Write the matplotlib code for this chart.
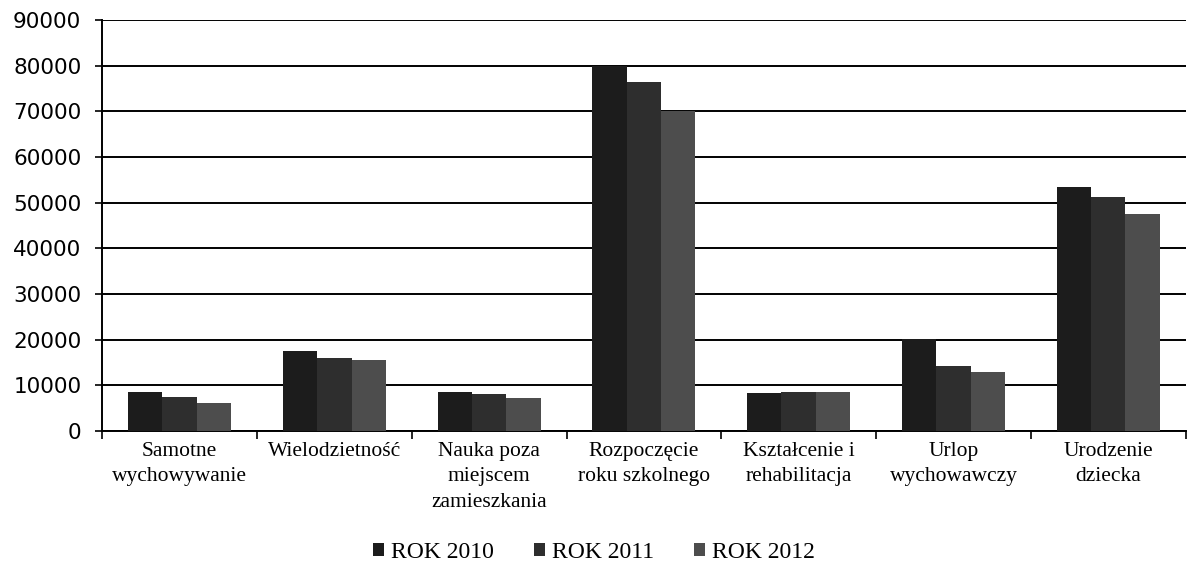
import numpy as np
import matplotlib.pyplot as plt

categories = ['Samotne\nwychowywanie', 'Wielodzietność', 'Nauka poza\nmiejscem\nzamieszkania',
              'Rozpoczęcie\nroku szkolnego', 'Kształcenie i\nrehabilitacja', 'Urlop\nwychowawczy',
              'Urodzenie\ndziecka']
rok_2010 = [8500, 17500, 8500, 80000, 8400, 20200, 53300]
rok_2011 = [7400, 16000, 8000, 76400, 8500, 14200, 51200]
rok_2012 = [6100, 15600, 7200, 70100, 8600, 13000, 47500]
series = {'ROK 2010': rok_2010, 'ROK 2011': rok_2011, 'ROK 2012': rok_2012}
colors = ['#1c1c1c', '#2e2e2e', '#4d4d4d']

fig = plt.figure(figsize=(11.88, 5.67), dpi=100)
ax = fig.add_axes([0.086, 0.24, 0.912, 0.725])

x = np.arange(len(categories))
w = 0.222
for i, (name, vals) in enumerate(series.items()):
    ax.bar(x + (i - 1) * w, vals, width=w, color=colors[i], label=name, zorder=3)

ax.set_xlim(-0.5, len(categories) - 0.5)
ax.set_ylim(0, 90000)
ax.set_yticks(np.arange(0, 90001, 10000))
ax.yaxis.grid(True, color='black', linewidth=1.4, zorder=0)
ax.set_axisbelow(True)
for s in ['top', 'right']:
    ax.spines[s].set_visible(False)
ax.spines['left'].set_linewidth(1.4)
ax.spines['bottom'].set_linewidth(1.4)

ax.tick_params(axis='y', labelsize=15.5, length=5, width=1.2, pad=10)
ax.set_xticks(np.arange(-0.5, len(categories), 1))
ax.set_xticklabels([])
ax.tick_params(axis='x', which='major', length=6, width=1.2)
ax.set_xticks(x, minor=True)
ax.set_xticklabels(categories, minor=True, family='Liberation Serif', fontsize=15.5, linespacing=1.45)
ax.tick_params(axis='x', which='minor', length=0, pad=8)

fig.legend(loc='lower center', bbox_to_anchor=(0.5, -0.03), ncol=3, frameon=False,
           prop={'family': 'Liberation Serif', 'size': 17}, handlelength=0.45, handleheight=0.45,
           handletextpad=0.3, columnspacing=1.7)

fig.savefig('out.png', dpi=100)
